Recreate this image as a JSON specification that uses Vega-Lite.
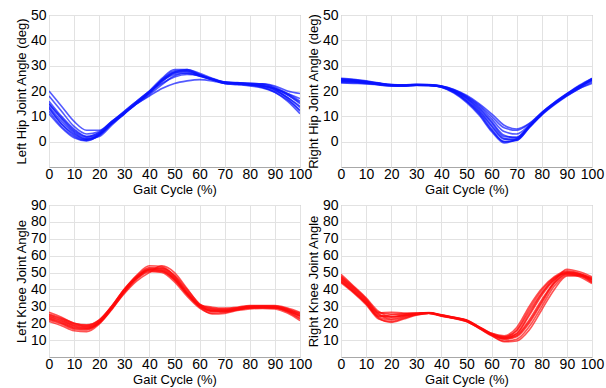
{
"$schema": "https://vega.github.io/schema/vega-lite/v6.json",
"padding": {"left": 14, "top": 7, "right": 4, "bottom": 0},
"config": {
  "view": {"stroke": "#a8a8a8", "strokeWidth": 1},
  "font": "Liberation Sans",
  "axis": {"labelFontSize": 14, "titleFontSize": 13, "titleFontWeight": "normal", "labelColor": "#000", "titleColor": "#000", "gridColor": "#e2e2e2", "domain": false, "ticks": false, "labelOverlap": false, "labelFlush": false},
  "axisX": {"labelPadding": 0, "titlePadding": 2},
  "axisY": {"labelPadding": 3, "titlePadding": 2}
},
"datasets": {"d": [
{"j":"LH","c":1,"x":0,"y":12},{"j":"LH","c":1,"x":5,"y":6},{"j":"LH","c":1,"x":10,"y":2},{"j":"LH","c":1,"x":15,"y":0.5},{"j":"LH","c":1,"x":20,"y":2.5},{"j":"LH","c":1,"x":25,"y":7},{"j":"LH","c":1,"x":30,"y":11},{"j":"LH","c":1,"x":35,"y":15},{"j":"LH","c":1,"x":40,"y":19.5},{"j":"LH","c":1,"x":45,"y":24.5},{"j":"LH","c":1,"x":50,"y":27.5},{"j":"LH","c":1,"x":55,"y":28},{"j":"LH","c":1,"x":60,"y":26},{"j":"LH","c":1,"x":65,"y":24.5},{"j":"LH","c":1,"x":70,"y":23},{"j":"LH","c":1,"x":75,"y":22.8},{"j":"LH","c":1,"x":80,"y":22.5},{"j":"LH","c":1,"x":85,"y":22},{"j":"LH","c":1,"x":90,"y":20.5},{"j":"LH","c":1,"x":95,"y":17},{"j":"LH","c":1,"x":100,"y":12},
{"j":"LH","c":2,"x":0,"y":15},{"j":"LH","c":2,"x":5,"y":9},{"j":"LH","c":2,"x":10,"y":4},{"j":"LH","c":2,"x":15,"y":1.5},{"j":"LH","c":2,"x":20,"y":3},{"j":"LH","c":2,"x":25,"y":7.5},{"j":"LH","c":2,"x":30,"y":11.5},{"j":"LH","c":2,"x":35,"y":15.5},{"j":"LH","c":2,"x":40,"y":19},{"j":"LH","c":2,"x":45,"y":23.5},{"j":"LH","c":2,"x":50,"y":27},{"j":"LH","c":2,"x":55,"y":27.5},{"j":"LH","c":2,"x":60,"y":26.2},{"j":"LH","c":2,"x":65,"y":24.8},{"j":"LH","c":2,"x":70,"y":23.5},{"j":"LH","c":2,"x":75,"y":23.2},{"j":"LH","c":2,"x":80,"y":22.8},{"j":"LH","c":2,"x":85,"y":22.5},{"j":"LH","c":2,"x":90,"y":21},{"j":"LH","c":2,"x":95,"y":18.5},{"j":"LH","c":2,"x":100,"y":15},
{"j":"LH","c":3,"x":0,"y":18},{"j":"LH","c":3,"x":5,"y":12},{"j":"LH","c":3,"x":10,"y":6},{"j":"LH","c":3,"x":15,"y":3},{"j":"LH","c":3,"x":20,"y":4},{"j":"LH","c":3,"x":25,"y":8},{"j":"LH","c":3,"x":30,"y":12},{"j":"LH","c":3,"x":35,"y":16},{"j":"LH","c":3,"x":40,"y":20},{"j":"LH","c":3,"x":45,"y":24},{"j":"LH","c":3,"x":50,"y":26.5},{"j":"LH","c":3,"x":55,"y":27},{"j":"LH","c":3,"x":60,"y":25.8},{"j":"LH","c":3,"x":65,"y":24.5},{"j":"LH","c":3,"x":70,"y":23.2},{"j":"LH","c":3,"x":75,"y":22.8},{"j":"LH","c":3,"x":80,"y":22.3},{"j":"LH","c":3,"x":85,"y":21.5},{"j":"LH","c":3,"x":90,"y":19.5},{"j":"LH","c":3,"x":95,"y":16},{"j":"LH","c":3,"x":100,"y":11},
{"j":"LH","c":4,"x":0,"y":13},{"j":"LH","c":4,"x":5,"y":7},{"j":"LH","c":4,"x":10,"y":2.5},{"j":"LH","c":4,"x":15,"y":0.8},{"j":"LH","c":4,"x":20,"y":2.8},{"j":"LH","c":4,"x":25,"y":7.2},{"j":"LH","c":4,"x":30,"y":11.2},{"j":"LH","c":4,"x":35,"y":15.2},{"j":"LH","c":4,"x":40,"y":19.2},{"j":"LH","c":4,"x":45,"y":24.5},{"j":"LH","c":4,"x":50,"y":28},{"j":"LH","c":4,"x":55,"y":28.2},{"j":"LH","c":4,"x":60,"y":26.5},{"j":"LH","c":4,"x":65,"y":24.8},{"j":"LH","c":4,"x":70,"y":23.5},{"j":"LH","c":4,"x":75,"y":23.3},{"j":"LH","c":4,"x":80,"y":23},{"j":"LH","c":4,"x":85,"y":22.8},{"j":"LH","c":4,"x":90,"y":21.5},{"j":"LH","c":4,"x":95,"y":19},{"j":"LH","c":4,"x":100,"y":16},
{"j":"LH","c":5,"x":0,"y":20},{"j":"LH","c":5,"x":5,"y":14},{"j":"LH","c":5,"x":10,"y":8},{"j":"LH","c":5,"x":15,"y":4.5},{"j":"LH","c":5,"x":20,"y":4.5},{"j":"LH","c":5,"x":25,"y":8},{"j":"LH","c":5,"x":30,"y":11.5},{"j":"LH","c":5,"x":35,"y":15},{"j":"LH","c":5,"x":40,"y":18},{"j":"LH","c":5,"x":45,"y":21},{"j":"LH","c":5,"x":50,"y":23},{"j":"LH","c":5,"x":55,"y":24},{"j":"LH","c":5,"x":60,"y":24.5},{"j":"LH","c":5,"x":65,"y":24},{"j":"LH","c":5,"x":70,"y":23},{"j":"LH","c":5,"x":75,"y":22.8},{"j":"LH","c":5,"x":80,"y":22.5},{"j":"LH","c":5,"x":85,"y":22},{"j":"LH","c":5,"x":90,"y":21},{"j":"LH","c":5,"x":95,"y":19},{"j":"LH","c":5,"x":100,"y":17},
{"j":"LH","c":6,"x":0,"y":11},{"j":"LH","c":6,"x":5,"y":5.5},{"j":"LH","c":6,"x":10,"y":1.5},{"j":"LH","c":6,"x":15,"y":0.3},{"j":"LH","c":6,"x":20,"y":2.5},{"j":"LH","c":6,"x":25,"y":7},{"j":"LH","c":6,"x":30,"y":11},{"j":"LH","c":6,"x":35,"y":15.5},{"j":"LH","c":6,"x":40,"y":20},{"j":"LH","c":6,"x":45,"y":25},{"j":"LH","c":6,"x":50,"y":28.5},{"j":"LH","c":6,"x":55,"y":28.5},{"j":"LH","c":6,"x":60,"y":26.5},{"j":"LH","c":6,"x":65,"y":24.5},{"j":"LH","c":6,"x":70,"y":23},{"j":"LH","c":6,"x":75,"y":22.5},{"j":"LH","c":6,"x":80,"y":22},{"j":"LH","c":6,"x":85,"y":21.2},{"j":"LH","c":6,"x":90,"y":19.5},{"j":"LH","c":6,"x":95,"y":16.5},{"j":"LH","c":6,"x":100,"y":12.5},
{"j":"LH","c":7,"x":0,"y":16},{"j":"LH","c":7,"x":5,"y":10},{"j":"LH","c":7,"x":10,"y":5},{"j":"LH","c":7,"x":15,"y":2},{"j":"LH","c":7,"x":20,"y":3.5},{"j":"LH","c":7,"x":25,"y":7.8},{"j":"LH","c":7,"x":30,"y":12},{"j":"LH","c":7,"x":35,"y":16},{"j":"LH","c":7,"x":40,"y":19.8},{"j":"LH","c":7,"x":45,"y":23},{"j":"LH","c":7,"x":50,"y":25.5},{"j":"LH","c":7,"x":55,"y":26.5},{"j":"LH","c":7,"x":60,"y":26},{"j":"LH","c":7,"x":65,"y":24.7},{"j":"LH","c":7,"x":70,"y":23.3},{"j":"LH","c":7,"x":75,"y":23},{"j":"LH","c":7,"x":80,"y":22.6},{"j":"LH","c":7,"x":85,"y":22},{"j":"LH","c":7,"x":90,"y":20.5},{"j":"LH","c":7,"x":95,"y":17.5},{"j":"LH","c":7,"x":100,"y":13.5},
{"j":"LH","c":8,"x":0,"y":14},{"j":"LH","c":8,"x":5,"y":8},{"j":"LH","c":8,"x":10,"y":3.5},{"j":"LH","c":8,"x":15,"y":1},{"j":"LH","c":8,"x":20,"y":3},{"j":"LH","c":8,"x":25,"y":7.5},{"j":"LH","c":8,"x":30,"y":11.5},{"j":"LH","c":8,"x":35,"y":15.5},{"j":"LH","c":8,"x":40,"y":19.5},{"j":"LH","c":8,"x":45,"y":24.2},{"j":"LH","c":8,"x":50,"y":27.2},{"j":"LH","c":8,"x":55,"y":27.8},{"j":"LH","c":8,"x":60,"y":26.3},{"j":"LH","c":8,"x":65,"y":24.6},{"j":"LH","c":8,"x":70,"y":23.4},{"j":"LH","c":8,"x":75,"y":23.2},{"j":"LH","c":8,"x":80,"y":23},{"j":"LH","c":8,"x":85,"y":22.8},{"j":"LH","c":8,"x":90,"y":22},{"j":"LH","c":8,"x":95,"y":20},{"j":"LH","c":8,"x":100,"y":19},
{"j":"LH","c":9,"x":0,"y":13.5},{"j":"LH","c":9,"x":5,"y":7},{"j":"LH","c":9,"x":10,"y":3},{"j":"LH","c":9,"x":15,"y":1},{"j":"LH","c":9,"x":20,"y":2},{"j":"LH","c":9,"x":25,"y":6.5},{"j":"LH","c":9,"x":30,"y":11},{"j":"LH","c":9,"x":35,"y":15.5},{"j":"LH","c":9,"x":40,"y":19.5},{"j":"LH","c":9,"x":45,"y":24},{"j":"LH","c":9,"x":50,"y":27.5},{"j":"LH","c":9,"x":55,"y":28.5},{"j":"LH","c":9,"x":60,"y":27},{"j":"LH","c":9,"x":65,"y":25},{"j":"LH","c":9,"x":70,"y":23.5},{"j":"LH","c":9,"x":75,"y":23},{"j":"LH","c":9,"x":80,"y":22.5},{"j":"LH","c":9,"x":85,"y":21.5},{"j":"LH","c":9,"x":90,"y":20},{"j":"LH","c":9,"x":95,"y":17.5},{"j":"LH","c":9,"x":100,"y":14},
{"j":"LH","c":10,"x":0,"y":15},{"j":"LH","c":10,"x":5,"y":9.5},{"j":"LH","c":10,"x":10,"y":4.5},{"j":"LH","c":10,"x":15,"y":2},{"j":"LH","c":10,"x":20,"y":3.5},{"j":"LH","c":10,"x":25,"y":7.5},{"j":"LH","c":10,"x":30,"y":11.5},{"j":"LH","c":10,"x":35,"y":15},{"j":"LH","c":10,"x":40,"y":18.5},{"j":"LH","c":10,"x":45,"y":22.5},{"j":"LH","c":10,"x":50,"y":26},{"j":"LH","c":10,"x":55,"y":27},{"j":"LH","c":10,"x":60,"y":26},{"j":"LH","c":10,"x":65,"y":24.5},{"j":"LH","c":10,"x":70,"y":23.2},{"j":"LH","c":10,"x":75,"y":23},{"j":"LH","c":10,"x":80,"y":22.7},{"j":"LH","c":10,"x":85,"y":22.3},{"j":"LH","c":10,"x":90,"y":21},{"j":"LH","c":10,"x":95,"y":18.5},{"j":"LH","c":10,"x":100,"y":15.5},
{"j":"RH","c":1,"x":0,"y":24},{"j":"RH","c":1,"x":5,"y":23.8},{"j":"RH","c":1,"x":10,"y":23.3},{"j":"RH","c":1,"x":15,"y":22.7},{"j":"RH","c":1,"x":20,"y":22.2},{"j":"RH","c":1,"x":25,"y":22.1},{"j":"RH","c":1,"x":30,"y":22.3},{"j":"RH","c":1,"x":35,"y":22.2},{"j":"RH","c":1,"x":40,"y":21.7},{"j":"RH","c":1,"x":45,"y":19.8},{"j":"RH","c":1,"x":50,"y":16.5},{"j":"RH","c":1,"x":55,"y":12},{"j":"RH","c":1,"x":60,"y":6},{"j":"RH","c":1,"x":65,"y":1},{"j":"RH","c":1,"x":70,"y":1},{"j":"RH","c":1,"x":75,"y":6},{"j":"RH","c":1,"x":80,"y":11},{"j":"RH","c":1,"x":85,"y":15},{"j":"RH","c":1,"x":90,"y":18.5},{"j":"RH","c":1,"x":95,"y":21.5},{"j":"RH","c":1,"x":100,"y":24.5},
{"j":"RH","c":2,"x":0,"y":24.5},{"j":"RH","c":2,"x":5,"y":24.2},{"j":"RH","c":2,"x":10,"y":23.6},{"j":"RH","c":2,"x":15,"y":23},{"j":"RH","c":2,"x":20,"y":22.4},{"j":"RH","c":2,"x":25,"y":22.3},{"j":"RH","c":2,"x":30,"y":22.5},{"j":"RH","c":2,"x":35,"y":22.4},{"j":"RH","c":2,"x":40,"y":21.9},{"j":"RH","c":2,"x":45,"y":20.2},{"j":"RH","c":2,"x":50,"y":17.5},{"j":"RH","c":2,"x":55,"y":13.5},{"j":"RH","c":2,"x":60,"y":8},{"j":"RH","c":2,"x":65,"y":2.5},{"j":"RH","c":2,"x":70,"y":1.5},{"j":"RH","c":2,"x":75,"y":6.2},{"j":"RH","c":2,"x":80,"y":11.2},{"j":"RH","c":2,"x":85,"y":15.2},{"j":"RH","c":2,"x":90,"y":18.8},{"j":"RH","c":2,"x":95,"y":22},{"j":"RH","c":2,"x":100,"y":25},
{"j":"RH","c":3,"x":0,"y":23.5},{"j":"RH","c":3,"x":5,"y":23.3},{"j":"RH","c":3,"x":10,"y":23},{"j":"RH","c":3,"x":15,"y":22.5},{"j":"RH","c":3,"x":20,"y":22},{"j":"RH","c":3,"x":25,"y":22},{"j":"RH","c":3,"x":30,"y":22.2},{"j":"RH","c":3,"x":35,"y":22.2},{"j":"RH","c":3,"x":40,"y":21.6},{"j":"RH","c":3,"x":45,"y":19.5},{"j":"RH","c":3,"x":50,"y":16},{"j":"RH","c":3,"x":55,"y":11},{"j":"RH","c":3,"x":60,"y":4.5},{"j":"RH","c":3,"x":65,"y":0},{"j":"RH","c":3,"x":70,"y":0.8},{"j":"RH","c":3,"x":75,"y":5.8},{"j":"RH","c":3,"x":80,"y":10.8},{"j":"RH","c":3,"x":85,"y":14.8},{"j":"RH","c":3,"x":90,"y":18.2},{"j":"RH","c":3,"x":95,"y":21},{"j":"RH","c":3,"x":100,"y":23.5},
{"j":"RH","c":4,"x":0,"y":25},{"j":"RH","c":4,"x":5,"y":24.6},{"j":"RH","c":4,"x":10,"y":24},{"j":"RH","c":4,"x":15,"y":23.2},{"j":"RH","c":4,"x":20,"y":22.5},{"j":"RH","c":4,"x":25,"y":22.4},{"j":"RH","c":4,"x":30,"y":22.6},{"j":"RH","c":4,"x":35,"y":22.5},{"j":"RH","c":4,"x":40,"y":22},{"j":"RH","c":4,"x":45,"y":20.5},{"j":"RH","c":4,"x":50,"y":18},{"j":"RH","c":4,"x":55,"y":14.5},{"j":"RH","c":4,"x":60,"y":10},{"j":"RH","c":4,"x":65,"y":5.5},{"j":"RH","c":4,"x":70,"y":4.5},{"j":"RH","c":4,"x":75,"y":7},{"j":"RH","c":4,"x":80,"y":11.5},{"j":"RH","c":4,"x":85,"y":15.5},{"j":"RH","c":4,"x":90,"y":19},{"j":"RH","c":4,"x":95,"y":22.3},{"j":"RH","c":4,"x":100,"y":25},
{"j":"RH","c":5,"x":0,"y":24},{"j":"RH","c":5,"x":5,"y":23.7},{"j":"RH","c":5,"x":10,"y":23.2},{"j":"RH","c":5,"x":15,"y":22.6},{"j":"RH","c":5,"x":20,"y":22.1},{"j":"RH","c":5,"x":25,"y":22},{"j":"RH","c":5,"x":30,"y":22.3},{"j":"RH","c":5,"x":35,"y":22.2},{"j":"RH","c":5,"x":40,"y":21.5},{"j":"RH","c":5,"x":45,"y":19.5},{"j":"RH","c":5,"x":50,"y":16},{"j":"RH","c":5,"x":55,"y":11.5},{"j":"RH","c":5,"x":60,"y":5},{"j":"RH","c":5,"x":65,"y":0},{"j":"RH","c":5,"x":70,"y":0.5},{"j":"RH","c":5,"x":75,"y":5.5},{"j":"RH","c":5,"x":80,"y":10.5},{"j":"RH","c":5,"x":85,"y":14.5},{"j":"RH","c":5,"x":90,"y":18},{"j":"RH","c":5,"x":95,"y":21},{"j":"RH","c":5,"x":100,"y":23},
{"j":"RH","c":6,"x":0,"y":24.8},{"j":"RH","c":6,"x":5,"y":24.4},{"j":"RH","c":6,"x":10,"y":23.8},{"j":"RH","c":6,"x":15,"y":23},{"j":"RH","c":6,"x":20,"y":22.4},{"j":"RH","c":6,"x":25,"y":22.3},{"j":"RH","c":6,"x":30,"y":22.4},{"j":"RH","c":6,"x":35,"y":22.3},{"j":"RH","c":6,"x":40,"y":21.8},{"j":"RH","c":6,"x":45,"y":20},{"j":"RH","c":6,"x":50,"y":17.2},{"j":"RH","c":6,"x":55,"y":13},{"j":"RH","c":6,"x":60,"y":7.5},{"j":"RH","c":6,"x":65,"y":2},{"j":"RH","c":6,"x":70,"y":1.8},{"j":"RH","c":6,"x":75,"y":6.2},{"j":"RH","c":6,"x":80,"y":11},{"j":"RH","c":6,"x":85,"y":15},{"j":"RH","c":6,"x":90,"y":18.6},{"j":"RH","c":6,"x":95,"y":21.8},{"j":"RH","c":6,"x":100,"y":24.6},
{"j":"RH","c":7,"x":0,"y":23.2},{"j":"RH","c":7,"x":5,"y":23},{"j":"RH","c":7,"x":10,"y":22.8},{"j":"RH","c":7,"x":15,"y":22.4},{"j":"RH","c":7,"x":20,"y":22},{"j":"RH","c":7,"x":25,"y":22},{"j":"RH","c":7,"x":30,"y":22.3},{"j":"RH","c":7,"x":35,"y":22.3},{"j":"RH","c":7,"x":40,"y":21.9},{"j":"RH","c":7,"x":45,"y":20.3},{"j":"RH","c":7,"x":50,"y":17.8},{"j":"RH","c":7,"x":55,"y":14},{"j":"RH","c":7,"x":60,"y":9},{"j":"RH","c":7,"x":65,"y":4},{"j":"RH","c":7,"x":70,"y":3},{"j":"RH","c":7,"x":75,"y":6.5},{"j":"RH","c":7,"x":80,"y":11.3},{"j":"RH","c":7,"x":85,"y":15.3},{"j":"RH","c":7,"x":90,"y":18.8},{"j":"RH","c":7,"x":95,"y":21.7},{"j":"RH","c":7,"x":100,"y":24.2},
{"j":"RH","c":8,"x":0,"y":24.2},{"j":"RH","c":8,"x":5,"y":24},{"j":"RH","c":8,"x":10,"y":23.5},{"j":"RH","c":8,"x":15,"y":22.9},{"j":"RH","c":8,"x":20,"y":22.3},{"j":"RH","c":8,"x":25,"y":22.2},{"j":"RH","c":8,"x":30,"y":22.4},{"j":"RH","c":8,"x":35,"y":22.3},{"j":"RH","c":8,"x":40,"y":21.5},{"j":"RH","c":8,"x":45,"y":19.2},{"j":"RH","c":8,"x":50,"y":15.5},{"j":"RH","c":8,"x":55,"y":10.5},{"j":"RH","c":8,"x":60,"y":4},{"j":"RH","c":8,"x":65,"y":-0.5},{"j":"RH","c":8,"x":70,"y":1.2},{"j":"RH","c":8,"x":75,"y":6},{"j":"RH","c":8,"x":80,"y":10.8},{"j":"RH","c":8,"x":85,"y":14.8},{"j":"RH","c":8,"x":90,"y":18.3},{"j":"RH","c":8,"x":95,"y":21.3},{"j":"RH","c":8,"x":100,"y":24},
{"j":"RH","c":9,"x":0,"y":23.8},{"j":"RH","c":9,"x":5,"y":23.6},{"j":"RH","c":9,"x":10,"y":23.3},{"j":"RH","c":9,"x":15,"y":22.8},{"j":"RH","c":9,"x":20,"y":22.3},{"j":"RH","c":9,"x":25,"y":22.1},{"j":"RH","c":9,"x":30,"y":22.3},{"j":"RH","c":9,"x":35,"y":22.2},{"j":"RH","c":9,"x":40,"y":21.8},{"j":"RH","c":9,"x":45,"y":20},{"j":"RH","c":9,"x":50,"y":17},{"j":"RH","c":9,"x":55,"y":12.5},{"j":"RH","c":9,"x":60,"y":6.5},{"j":"RH","c":9,"x":65,"y":1.2},{"j":"RH","c":9,"x":70,"y":0.6},{"j":"RH","c":9,"x":75,"y":5.6},{"j":"RH","c":9,"x":80,"y":10.8},{"j":"RH","c":9,"x":85,"y":15},{"j":"RH","c":9,"x":90,"y":18.6},{"j":"RH","c":9,"x":95,"y":21.6},{"j":"RH","c":9,"x":100,"y":24.8},
{"j":"RH","c":10,"x":0,"y":24.6},{"j":"RH","c":10,"x":5,"y":24.3},{"j":"RH","c":10,"x":10,"y":23.7},{"j":"RH","c":10,"x":15,"y":23},{"j":"RH","c":10,"x":20,"y":22.5},{"j":"RH","c":10,"x":25,"y":22.3},{"j":"RH","c":10,"x":30,"y":22.5},{"j":"RH","c":10,"x":35,"y":22.4},{"j":"RH","c":10,"x":40,"y":22},{"j":"RH","c":10,"x":45,"y":20.6},{"j":"RH","c":10,"x":50,"y":18.3},{"j":"RH","c":10,"x":55,"y":15},{"j":"RH","c":10,"x":60,"y":11},{"j":"RH","c":10,"x":65,"y":6.5},{"j":"RH","c":10,"x":70,"y":5},{"j":"RH","c":10,"x":75,"y":7.2},{"j":"RH","c":10,"x":80,"y":11.6},{"j":"RH","c":10,"x":85,"y":15.4},{"j":"RH","c":10,"x":90,"y":18.8},{"j":"RH","c":10,"x":95,"y":22},{"j":"RH","c":10,"x":100,"y":24.4},
{"j":"LK","c":1,"x":0,"y":23},{"j":"LK","c":1,"x":5,"y":20.5},{"j":"LK","c":1,"x":10,"y":17.5},{"j":"LK","c":1,"x":15,"y":17},{"j":"LK","c":1,"x":20,"y":20.5},{"j":"LK","c":1,"x":25,"y":29},{"j":"LK","c":1,"x":30,"y":39},{"j":"LK","c":1,"x":35,"y":47},{"j":"LK","c":1,"x":40,"y":52},{"j":"LK","c":1,"x":45,"y":51},{"j":"LK","c":1,"x":50,"y":45.5},{"j":"LK","c":1,"x":55,"y":37},{"j":"LK","c":1,"x":60,"y":30},{"j":"LK","c":1,"x":65,"y":27.5},{"j":"LK","c":1,"x":70,"y":27.5},{"j":"LK","c":1,"x":75,"y":28.5},{"j":"LK","c":1,"x":80,"y":29.5},{"j":"LK","c":1,"x":85,"y":29.5},{"j":"LK","c":1,"x":90,"y":29.5},{"j":"LK","c":1,"x":95,"y":27.5},{"j":"LK","c":1,"x":100,"y":24},
{"j":"LK","c":2,"x":0,"y":25},{"j":"LK","c":2,"x":5,"y":22.5},{"j":"LK","c":2,"x":10,"y":19.5},{"j":"LK","c":2,"x":15,"y":18},{"j":"LK","c":2,"x":20,"y":21},{"j":"LK","c":2,"x":25,"y":29.5},{"j":"LK","c":2,"x":30,"y":39.5},{"j":"LK","c":2,"x":35,"y":47.5},{"j":"LK","c":2,"x":40,"y":52.5},{"j":"LK","c":2,"x":45,"y":52},{"j":"LK","c":2,"x":50,"y":47},{"j":"LK","c":2,"x":55,"y":38},{"j":"LK","c":2,"x":60,"y":30.5},{"j":"LK","c":2,"x":65,"y":28},{"j":"LK","c":2,"x":70,"y":27.8},{"j":"LK","c":2,"x":75,"y":28.8},{"j":"LK","c":2,"x":80,"y":29.8},{"j":"LK","c":2,"x":85,"y":30},{"j":"LK","c":2,"x":90,"y":29.8},{"j":"LK","c":2,"x":95,"y":28},{"j":"LK","c":2,"x":100,"y":25.5},
{"j":"LK","c":3,"x":0,"y":22},{"j":"LK","c":3,"x":5,"y":19.5},{"j":"LK","c":3,"x":10,"y":16.5},{"j":"LK","c":3,"x":15,"y":16},{"j":"LK","c":3,"x":20,"y":20},{"j":"LK","c":3,"x":25,"y":28.5},{"j":"LK","c":3,"x":30,"y":38.5},{"j":"LK","c":3,"x":35,"y":46.5},{"j":"LK","c":3,"x":40,"y":51},{"j":"LK","c":3,"x":45,"y":50},{"j":"LK","c":3,"x":50,"y":44.5},{"j":"LK","c":3,"x":55,"y":36},{"j":"LK","c":3,"x":60,"y":29},{"j":"LK","c":3,"x":65,"y":26},{"j":"LK","c":3,"x":70,"y":26.5},{"j":"LK","c":3,"x":75,"y":28},{"j":"LK","c":3,"x":80,"y":29},{"j":"LK","c":3,"x":85,"y":29},{"j":"LK","c":3,"x":90,"y":29},{"j":"LK","c":3,"x":95,"y":27},{"j":"LK","c":3,"x":100,"y":23},
{"j":"LK","c":4,"x":0,"y":26.5},{"j":"LK","c":4,"x":5,"y":23.5},{"j":"LK","c":4,"x":10,"y":20},{"j":"LK","c":4,"x":15,"y":19},{"j":"LK","c":4,"x":20,"y":22},{"j":"LK","c":4,"x":25,"y":30},{"j":"LK","c":4,"x":30,"y":40},{"j":"LK","c":4,"x":35,"y":48.5},{"j":"LK","c":4,"x":40,"y":54},{"j":"LK","c":4,"x":45,"y":53.5},{"j":"LK","c":4,"x":50,"y":48},{"j":"LK","c":4,"x":55,"y":39},{"j":"LK","c":4,"x":60,"y":31},{"j":"LK","c":4,"x":65,"y":29.5},{"j":"LK","c":4,"x":70,"y":29},{"j":"LK","c":4,"x":75,"y":29.5},{"j":"LK","c":4,"x":80,"y":30.5},{"j":"LK","c":4,"x":85,"y":30.5},{"j":"LK","c":4,"x":90,"y":30.5},{"j":"LK","c":4,"x":95,"y":29},{"j":"LK","c":4,"x":100,"y":26.5},
{"j":"LK","c":5,"x":0,"y":24},{"j":"LK","c":5,"x":5,"y":21.5},{"j":"LK","c":5,"x":10,"y":18.5},{"j":"LK","c":5,"x":15,"y":17.5},{"j":"LK","c":5,"x":20,"y":20.8},{"j":"LK","c":5,"x":25,"y":29.2},{"j":"LK","c":5,"x":30,"y":39.2},{"j":"LK","c":5,"x":35,"y":47},{"j":"LK","c":5,"x":40,"y":51.5},{"j":"LK","c":5,"x":45,"y":51.5},{"j":"LK","c":5,"x":50,"y":46.5},{"j":"LK","c":5,"x":55,"y":37.5},{"j":"LK","c":5,"x":60,"y":30.2},{"j":"LK","c":5,"x":65,"y":27.5},{"j":"LK","c":5,"x":70,"y":27},{"j":"LK","c":5,"x":75,"y":28},{"j":"LK","c":5,"x":80,"y":29.2},{"j":"LK","c":5,"x":85,"y":29.3},{"j":"LK","c":5,"x":90,"y":29.2},{"j":"LK","c":5,"x":95,"y":27.2},{"j":"LK","c":5,"x":100,"y":24.5},
{"j":"LK","c":6,"x":0,"y":21},{"j":"LK","c":6,"x":5,"y":18.5},{"j":"LK","c":6,"x":10,"y":15.5},{"j":"LK","c":6,"x":15,"y":15},{"j":"LK","c":6,"x":20,"y":19.5},{"j":"LK","c":6,"x":25,"y":28},{"j":"LK","c":6,"x":30,"y":38},{"j":"LK","c":6,"x":35,"y":46},{"j":"LK","c":6,"x":40,"y":50.5},{"j":"LK","c":6,"x":45,"y":50.5},{"j":"LK","c":6,"x":50,"y":46},{"j":"LK","c":6,"x":55,"y":37.5},{"j":"LK","c":6,"x":60,"y":29.5},{"j":"LK","c":6,"x":65,"y":25.5},{"j":"LK","c":6,"x":70,"y":25.8},{"j":"LK","c":6,"x":75,"y":27.5},{"j":"LK","c":6,"x":80,"y":28.5},{"j":"LK","c":6,"x":85,"y":28.8},{"j":"LK","c":6,"x":90,"y":28.5},{"j":"LK","c":6,"x":95,"y":26},{"j":"LK","c":6,"x":100,"y":21.5},
{"j":"LK","c":7,"x":0,"y":24.5},{"j":"LK","c":7,"x":5,"y":22},{"j":"LK","c":7,"x":10,"y":19},{"j":"LK","c":7,"x":15,"y":18.2},{"j":"LK","c":7,"x":20,"y":21.5},{"j":"LK","c":7,"x":25,"y":30},{"j":"LK","c":7,"x":30,"y":40},{"j":"LK","c":7,"x":35,"y":47.5},{"j":"LK","c":7,"x":40,"y":52},{"j":"LK","c":7,"x":45,"y":52.5},{"j":"LK","c":7,"x":50,"y":48.5},{"j":"LK","c":7,"x":55,"y":40},{"j":"LK","c":7,"x":60,"y":31.5},{"j":"LK","c":7,"x":65,"y":28.5},{"j":"LK","c":7,"x":70,"y":28},{"j":"LK","c":7,"x":75,"y":29},{"j":"LK","c":7,"x":80,"y":30},{"j":"LK","c":7,"x":85,"y":30},{"j":"LK","c":7,"x":90,"y":30},{"j":"LK","c":7,"x":95,"y":28.5},{"j":"LK","c":7,"x":100,"y":25},
{"j":"LK","c":8,"x":0,"y":23.5},{"j":"LK","c":8,"x":5,"y":21},{"j":"LK","c":8,"x":10,"y":18},{"j":"LK","c":8,"x":15,"y":17},{"j":"LK","c":8,"x":20,"y":20.2},{"j":"LK","c":8,"x":25,"y":28.8},{"j":"LK","c":8,"x":30,"y":38.8},{"j":"LK","c":8,"x":35,"y":46.8},{"j":"LK","c":8,"x":40,"y":51.5},{"j":"LK","c":8,"x":45,"y":51},{"j":"LK","c":8,"x":50,"y":46},{"j":"LK","c":8,"x":55,"y":37},{"j":"LK","c":8,"x":60,"y":29.8},{"j":"LK","c":8,"x":65,"y":27},{"j":"LK","c":8,"x":70,"y":27.2},{"j":"LK","c":8,"x":75,"y":28.3},{"j":"LK","c":8,"x":80,"y":29.4},{"j":"LK","c":8,"x":85,"y":29.6},{"j":"LK","c":8,"x":90,"y":29.4},{"j":"LK","c":8,"x":95,"y":27.5},{"j":"LK","c":8,"x":100,"y":24.2},
{"j":"LK","c":9,"x":0,"y":25.5},{"j":"LK","c":9,"x":5,"y":23},{"j":"LK","c":9,"x":10,"y":20},{"j":"LK","c":9,"x":15,"y":18.8},{"j":"LK","c":9,"x":20,"y":21.8},{"j":"LK","c":9,"x":25,"y":30.2},{"j":"LK","c":9,"x":30,"y":40.2},{"j":"LK","c":9,"x":35,"y":48},{"j":"LK","c":9,"x":40,"y":53},{"j":"LK","c":9,"x":45,"y":52.8},{"j":"LK","c":9,"x":50,"y":47.5},{"j":"LK","c":9,"x":55,"y":38.5},{"j":"LK","c":9,"x":60,"y":30.8},{"j":"LK","c":9,"x":65,"y":28.8},{"j":"LK","c":9,"x":70,"y":28.5},{"j":"LK","c":9,"x":75,"y":29.2},{"j":"LK","c":9,"x":80,"y":30.2},{"j":"LK","c":9,"x":85,"y":30.3},{"j":"LK","c":9,"x":90,"y":30.2},{"j":"LK","c":9,"x":95,"y":28.3},{"j":"LK","c":9,"x":100,"y":26},
{"j":"LK","c":10,"x":0,"y":22.5},{"j":"LK","c":10,"x":5,"y":20},{"j":"LK","c":10,"x":10,"y":17},{"j":"LK","c":10,"x":15,"y":16.5},{"j":"LK","c":10,"x":20,"y":20},{"j":"LK","c":10,"x":25,"y":28.5},{"j":"LK","c":10,"x":30,"y":37.5},{"j":"LK","c":10,"x":35,"y":45},{"j":"LK","c":10,"x":40,"y":50},{"j":"LK","c":10,"x":45,"y":54},{"j":"LK","c":10,"x":50,"y":50},{"j":"LK","c":10,"x":55,"y":40.5},{"j":"LK","c":10,"x":60,"y":31},{"j":"LK","c":10,"x":65,"y":27},{"j":"LK","c":10,"x":70,"y":26.8},{"j":"LK","c":10,"x":75,"y":28},{"j":"LK","c":10,"x":80,"y":29},{"j":"LK","c":10,"x":85,"y":29.3},{"j":"LK","c":10,"x":90,"y":29},{"j":"LK","c":10,"x":95,"y":26.8},{"j":"LK","c":10,"x":100,"y":22.5},
{"j":"RK","c":1,"x":0,"y":46},{"j":"RK","c":1,"x":5,"y":39.5},{"j":"RK","c":1,"x":10,"y":32.5},{"j":"RK","c":1,"x":15,"y":24.5},{"j":"RK","c":1,"x":20,"y":23.5},{"j":"RK","c":1,"x":25,"y":24.5},{"j":"RK","c":1,"x":30,"y":25.5},{"j":"RK","c":1,"x":35,"y":26},{"j":"RK","c":1,"x":40,"y":24.5},{"j":"RK","c":1,"x":45,"y":23},{"j":"RK","c":1,"x":50,"y":21.5},{"j":"RK","c":1,"x":55,"y":17.5},{"j":"RK","c":1,"x":60,"y":13.5},{"j":"RK","c":1,"x":65,"y":11},{"j":"RK","c":1,"x":70,"y":13},{"j":"RK","c":1,"x":75,"y":22},{"j":"RK","c":1,"x":80,"y":34},{"j":"RK","c":1,"x":85,"y":44},{"j":"RK","c":1,"x":90,"y":49},{"j":"RK","c":1,"x":95,"y":48.5},{"j":"RK","c":1,"x":100,"y":45.5},
{"j":"RK","c":2,"x":0,"y":48},{"j":"RK","c":2,"x":5,"y":41.5},{"j":"RK","c":2,"x":10,"y":34.5},{"j":"RK","c":2,"x":15,"y":26.5},{"j":"RK","c":2,"x":20,"y":25.5},{"j":"RK","c":2,"x":25,"y":25.5},{"j":"RK","c":2,"x":30,"y":26},{"j":"RK","c":2,"x":35,"y":26.3},{"j":"RK","c":2,"x":40,"y":25},{"j":"RK","c":2,"x":45,"y":23.5},{"j":"RK","c":2,"x":50,"y":22},{"j":"RK","c":2,"x":55,"y":18},{"j":"RK","c":2,"x":60,"y":14},{"j":"RK","c":2,"x":65,"y":12},{"j":"RK","c":2,"x":70,"y":15.5},{"j":"RK","c":2,"x":75,"y":27},{"j":"RK","c":2,"x":80,"y":38},{"j":"RK","c":2,"x":85,"y":46.5},{"j":"RK","c":2,"x":90,"y":50.5},{"j":"RK","c":2,"x":95,"y":49.5},{"j":"RK","c":2,"x":100,"y":46.5},
{"j":"RK","c":3,"x":0,"y":44},{"j":"RK","c":3,"x":5,"y":38},{"j":"RK","c":3,"x":10,"y":31},{"j":"RK","c":3,"x":15,"y":22.5},{"j":"RK","c":3,"x":20,"y":21},{"j":"RK","c":3,"x":25,"y":23},{"j":"RK","c":3,"x":30,"y":25},{"j":"RK","c":3,"x":35,"y":26},{"j":"RK","c":3,"x":40,"y":24.5},{"j":"RK","c":3,"x":45,"y":23},{"j":"RK","c":3,"x":50,"y":21},{"j":"RK","c":3,"x":55,"y":17},{"j":"RK","c":3,"x":60,"y":12.5},{"j":"RK","c":3,"x":65,"y":9.5},{"j":"RK","c":3,"x":70,"y":10.5},{"j":"RK","c":3,"x":75,"y":18},{"j":"RK","c":3,"x":80,"y":30},{"j":"RK","c":3,"x":85,"y":42},{"j":"RK","c":3,"x":90,"y":48.5},{"j":"RK","c":3,"x":95,"y":48},{"j":"RK","c":3,"x":100,"y":44.5},
{"j":"RK","c":4,"x":0,"y":47},{"j":"RK","c":4,"x":5,"y":40.5},{"j":"RK","c":4,"x":10,"y":33.5},{"j":"RK","c":4,"x":15,"y":26},{"j":"RK","c":4,"x":20,"y":26.5},{"j":"RK","c":4,"x":25,"y":26},{"j":"RK","c":4,"x":30,"y":26},{"j":"RK","c":4,"x":35,"y":26.2},{"j":"RK","c":4,"x":40,"y":25},{"j":"RK","c":4,"x":45,"y":23.5},{"j":"RK","c":4,"x":50,"y":21.8},{"j":"RK","c":4,"x":55,"y":17.8},{"j":"RK","c":4,"x":60,"y":14},{"j":"RK","c":4,"x":65,"y":12.5},{"j":"RK","c":4,"x":70,"y":17.5},{"j":"RK","c":4,"x":75,"y":30},{"j":"RK","c":4,"x":80,"y":40.5},{"j":"RK","c":4,"x":85,"y":47.5},{"j":"RK","c":4,"x":90,"y":51},{"j":"RK","c":4,"x":95,"y":49.5},{"j":"RK","c":4,"x":100,"y":46},
{"j":"RK","c":5,"x":0,"y":45},{"j":"RK","c":5,"x":5,"y":38.5},{"j":"RK","c":5,"x":10,"y":32},{"j":"RK","c":5,"x":15,"y":23.5},{"j":"RK","c":5,"x":20,"y":22},{"j":"RK","c":5,"x":25,"y":23.5},{"j":"RK","c":5,"x":30,"y":25.2},{"j":"RK","c":5,"x":35,"y":26},{"j":"RK","c":5,"x":40,"y":24.3},{"j":"RK","c":5,"x":45,"y":23},{"j":"RK","c":5,"x":50,"y":21.2},{"j":"RK","c":5,"x":55,"y":17.2},{"j":"RK","c":5,"x":60,"y":13},{"j":"RK","c":5,"x":65,"y":10.5},{"j":"RK","c":5,"x":70,"y":12},{"j":"RK","c":5,"x":75,"y":20},{"j":"RK","c":5,"x":80,"y":32},{"j":"RK","c":5,"x":85,"y":43.5},{"j":"RK","c":5,"x":90,"y":49.5},{"j":"RK","c":5,"x":95,"y":48.8},{"j":"RK","c":5,"x":100,"y":45},
{"j":"RK","c":6,"x":0,"y":49},{"j":"RK","c":6,"x":5,"y":42},{"j":"RK","c":6,"x":10,"y":35},{"j":"RK","c":6,"x":15,"y":27},{"j":"RK","c":6,"x":20,"y":24},{"j":"RK","c":6,"x":25,"y":24.5},{"j":"RK","c":6,"x":30,"y":25.5},{"j":"RK","c":6,"x":35,"y":26.2},{"j":"RK","c":6,"x":40,"y":24.8},{"j":"RK","c":6,"x":45,"y":23.3},{"j":"RK","c":6,"x":50,"y":21.7},{"j":"RK","c":6,"x":55,"y":17.7},{"j":"RK","c":6,"x":60,"y":13.6},{"j":"RK","c":6,"x":65,"y":11.5},{"j":"RK","c":6,"x":70,"y":13.8},{"j":"RK","c":6,"x":75,"y":24.5},{"j":"RK","c":6,"x":80,"y":36.5},{"j":"RK","c":6,"x":85,"y":45.5},{"j":"RK","c":6,"x":90,"y":49.8},{"j":"RK","c":6,"x":95,"y":49},{"j":"RK","c":6,"x":100,"y":46.8},
{"j":"RK","c":7,"x":0,"y":44.5},{"j":"RK","c":7,"x":5,"y":38.5},{"j":"RK","c":7,"x":10,"y":31.5},{"j":"RK","c":7,"x":15,"y":23},{"j":"RK","c":7,"x":20,"y":20.5},{"j":"RK","c":7,"x":25,"y":22.5},{"j":"RK","c":7,"x":30,"y":24.8},{"j":"RK","c":7,"x":35,"y":25.8},{"j":"RK","c":7,"x":40,"y":24.2},{"j":"RK","c":7,"x":45,"y":22.8},{"j":"RK","c":7,"x":50,"y":21},{"j":"RK","c":7,"x":55,"y":17},{"j":"RK","c":7,"x":60,"y":12.8},{"j":"RK","c":7,"x":65,"y":9},{"j":"RK","c":7,"x":70,"y":9.5},{"j":"RK","c":7,"x":75,"y":16},{"j":"RK","c":7,"x":80,"y":28},{"j":"RK","c":7,"x":85,"y":40},{"j":"RK","c":7,"x":90,"y":48},{"j":"RK","c":7,"x":95,"y":48.2},{"j":"RK","c":7,"x":100,"y":44},
{"j":"RK","c":8,"x":0,"y":46.5},{"j":"RK","c":8,"x":5,"y":40},{"j":"RK","c":8,"x":10,"y":33},{"j":"RK","c":8,"x":15,"y":25},{"j":"RK","c":8,"x":20,"y":23.8},{"j":"RK","c":8,"x":25,"y":24.8},{"j":"RK","c":8,"x":30,"y":25.6},{"j":"RK","c":8,"x":35,"y":26.1},{"j":"RK","c":8,"x":40,"y":24.6},{"j":"RK","c":8,"x":45,"y":23.2},{"j":"RK","c":8,"x":50,"y":21.5},{"j":"RK","c":8,"x":55,"y":17.5},{"j":"RK","c":8,"x":60,"y":13.4},{"j":"RK","c":8,"x":65,"y":11.2},{"j":"RK","c":8,"x":70,"y":14},{"j":"RK","c":8,"x":75,"y":25.5},{"j":"RK","c":8,"x":80,"y":37.5},{"j":"RK","c":8,"x":85,"y":46},{"j":"RK","c":8,"x":90,"y":50},{"j":"RK","c":8,"x":95,"y":49},{"j":"RK","c":8,"x":100,"y":45.8},
{"j":"RK","c":9,"x":0,"y":47.5},{"j":"RK","c":9,"x":5,"y":41},{"j":"RK","c":9,"x":10,"y":34},{"j":"RK","c":9,"x":15,"y":25.5},{"j":"RK","c":9,"x":20,"y":22.5},{"j":"RK","c":9,"x":25,"y":24},{"j":"RK","c":9,"x":30,"y":25.3},{"j":"RK","c":9,"x":35,"y":26},{"j":"RK","c":9,"x":40,"y":24.7},{"j":"RK","c":9,"x":45,"y":23.3},{"j":"RK","c":9,"x":50,"y":21.6},{"j":"RK","c":9,"x":55,"y":17.6},{"j":"RK","c":9,"x":60,"y":13.2},{"j":"RK","c":9,"x":65,"y":10.8},{"j":"RK","c":9,"x":70,"y":12.5},{"j":"RK","c":9,"x":75,"y":21},{"j":"RK","c":9,"x":80,"y":33},{"j":"RK","c":9,"x":85,"y":44.5},{"j":"RK","c":9,"x":90,"y":52},{"j":"RK","c":9,"x":95,"y":50.5},{"j":"RK","c":9,"x":100,"y":47.5},
{"j":"RK","c":10,"x":0,"y":45.5},{"j":"RK","c":10,"x":5,"y":39},{"j":"RK","c":10,"x":10,"y":32},{"j":"RK","c":10,"x":15,"y":24},{"j":"RK","c":10,"x":20,"y":25},{"j":"RK","c":10,"x":25,"y":25.5},{"j":"RK","c":10,"x":30,"y":25.8},{"j":"RK","c":10,"x":35,"y":26.1},{"j":"RK","c":10,"x":40,"y":24.6},{"j":"RK","c":10,"x":45,"y":23.1},{"j":"RK","c":10,"x":50,"y":21.4},{"j":"RK","c":10,"x":55,"y":17.4},{"j":"RK","c":10,"x":60,"y":13.3},{"j":"RK","c":10,"x":65,"y":11.8},{"j":"RK","c":10,"x":70,"y":16},{"j":"RK","c":10,"x":75,"y":28.5},{"j":"RK","c":10,"x":80,"y":39.5},{"j":"RK","c":10,"x":85,"y":47},{"j":"RK","c":10,"x":90,"y":49.5},{"j":"RK","c":10,"x":95,"y":47.5},{"j":"RK","c":10,"x":100,"y":43.5}
]},
"data": {"name": "d"},
"columns": 2,
"spacing": {"row": 38, "column": 41},
"bounds": "flush",
"concat": [
  {"width": 251, "height": 152,
   "transform": [{"filter": "datum.j === 'LH'"}],
   "mark": {"type": "line", "color": "#0a14ff", "strokeWidth": 1.6, "opacity": 0.7, "interpolate": "monotone", "clip": true},
   "encoding": {
     "x": {"field": "x", "type": "quantitative", "scale": {"domain": [0, 100], "nice": false}, "axis": {"values": [0,10,20,30,40,50,60,70,80,90,100], "title": "Gait Cycle (%)"}},
     "y": {"field": "y", "type": "quantitative", "scale": {"domain": [-10, 50], "nice": false, "zero": false}, "axis": {"values": [0,10,20,30,40,50], "title": "Left Hip Joint Angle (deg)"}},
     "detail": {"field": "c"}}},
  {"width": 251, "height": 152,
   "transform": [{"filter": "datum.j === 'RH'"}],
   "mark": {"type": "line", "color": "#0a14ff", "strokeWidth": 1.6, "opacity": 0.7, "interpolate": "monotone", "clip": true},
   "encoding": {
     "x": {"field": "x", "type": "quantitative", "scale": {"domain": [0, 100], "nice": false}, "axis": {"values": [0,10,20,30,40,50,60,70,80,90,100], "title": "Gait Cycle (%)"}},
     "y": {"field": "y", "type": "quantitative", "scale": {"domain": [-10, 50], "nice": false, "zero": false}, "axis": {"values": [0,10,20,30,40,50], "title": "Right Hip Joint Angle (deg)"}},
     "detail": {"field": "c"}}},
  {"width": 251, "height": 152,
   "transform": [{"filter": "datum.j === 'LK'"}],
   "mark": {"type": "line", "color": "#ff0a0a", "strokeWidth": 1.6, "opacity": 0.7, "interpolate": "monotone", "clip": true},
   "encoding": {
     "x": {"field": "x", "type": "quantitative", "scale": {"domain": [0, 100], "nice": false}, "axis": {"values": [0,10,20,30,40,50,60,70,80,90,100], "title": "Gait Cycle (%)"}},
     "y": {"field": "y", "type": "quantitative", "scale": {"domain": [0, 90], "nice": false}, "axis": {"values": [10,20,30,40,50,60,70,80,90], "title": "Left Knee Joint Angle"}},
     "detail": {"field": "c"}}},
  {"width": 251, "height": 152,
   "transform": [{"filter": "datum.j === 'RK'"}],
   "mark": {"type": "line", "color": "#ff0a0a", "strokeWidth": 1.6, "opacity": 0.7, "interpolate": "monotone", "clip": true},
   "encoding": {
     "x": {"field": "x", "type": "quantitative", "scale": {"domain": [0, 100], "nice": false}, "axis": {"values": [0,10,20,30,40,50,60,70,80,90,100], "title": "Gait Cycle (%)"}},
     "y": {"field": "y", "type": "quantitative", "scale": {"domain": [0, 90], "nice": false}, "axis": {"values": [10,20,30,40,50,60,70,80,90], "title": "Right Knee Joint Angle"}},
     "detail": {"field": "c"}}}
]
}
